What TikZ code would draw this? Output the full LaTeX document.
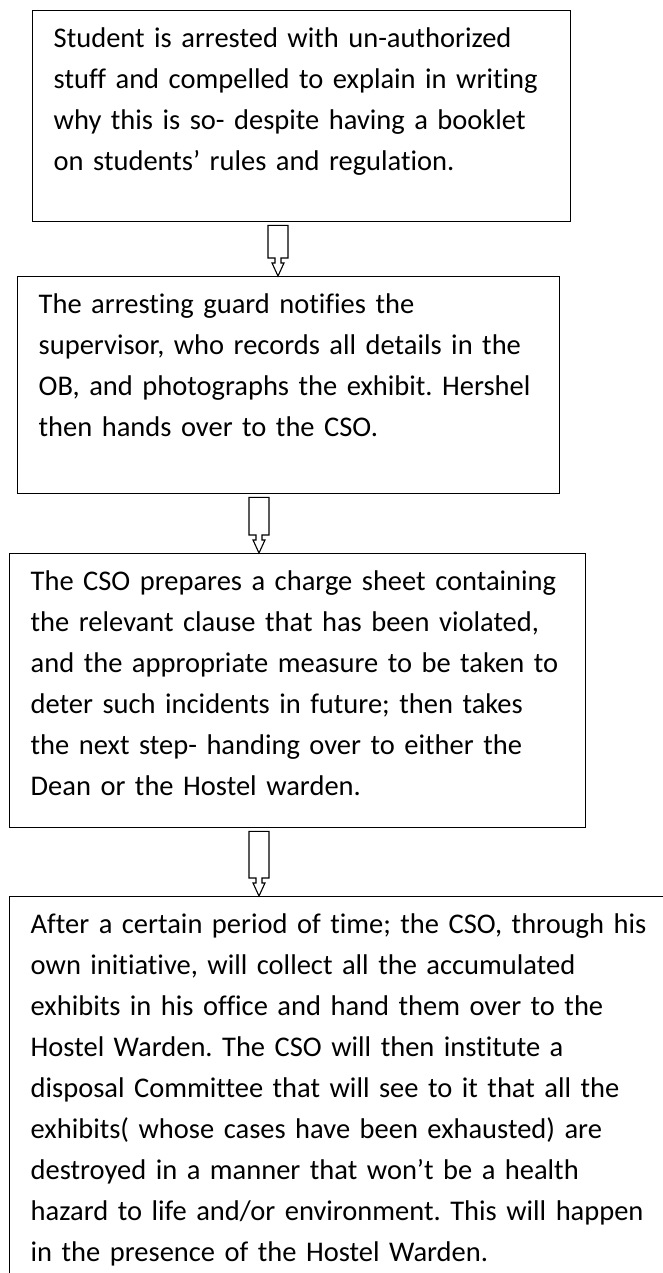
\documentclass[tikz,border=0pt]{standalone}
\usepackage{fontspec}
\setmainfont{Carlito}[Ligatures=NoCommon]
\usetikzlibrary{calc}
\tikzset{stepbox/.style={draw=black,line width=1.4pt,anchor=north west,align=left,
  inner ysep=0pt,inner xsep=21pt,text height=37pt,font=\fontsize{28.5}{41}\selectfont\frenchspacing},
  hollow/.style={draw=black,line width=1.1pt,fill=white,line join=miter}}
\newcommand{\flowarrow}[3]{%
  \draw[hollow] let \p1=(#1.south), \p2=(#2.north) in
    (#3pt-10pt,\y1-3pt) -- (#3pt+10pt,\y1-3pt) -- (#3pt+10pt,\y2+18pt)
    -- (#3pt+3pt,\y2+18pt) -- (#3pt+3pt,\y2+13pt) -- (#3pt+6pt,\y2+13pt)
    -- (#3pt,\y2) -- (#3pt-6pt,\y2+13pt) -- (#3pt-3pt,\y2+13pt)
    -- (#3pt-3pt,\y2+18pt) -- (#3pt-10pt,\y2+18pt) -- cycle;}

\begin{document}
\begin{tikzpicture}[x=1pt,y=1pt]
\useasboundingbox (0,0) rectangle (663,-1273);
\clip (0,0) rectangle (663,-1273);
\node[stepbox,text width=496pt,text depth=174pt] (arrest) at (32,-10)
  {Student is arrested with un-authorized\\stuff and compelled to explain in writing\\why this is so- despite having a booklet\\on students’ rules and regulation.};
\node[stepbox,text width=500pt,text depth=180pt] (notify) at (17,-276)
  {The arresting guard notifies the\\supervisor, who records all details in the\\OB, and photographs the exhibit. Hershel\\then hands over to the CSO.};
\node[stepbox,text width=534pt,text depth=237pt] (charge) at (9,-553)
  {The CSO prepares a charge sheet containing\\the relevant clause that has been violated,\\and the appropriate measure to be taken to\\deter such incidents in future; then takes\\the next step- handing over to either the\\Dean or the Hostel warden.};
\node[stepbox,text width=629pt,text depth=367pt] (disposal) at (9,-896)
  {After a certain period of time; the CSO, through his\\own initiative, will collect all the accumulated\\exhibits in his office and hand them over to the\\Hostel Warden. The CSO will then institute a\\disposal Committee that will see to it that all the\\exhibits( whose cases have been exhausted) are\\destroyed in a manner that won’t be a health\\hazard to life and/or environment. This will happen\\in the presence of the Hostel Warden.};
\flowarrow{arrest}{notify}{278}
\flowarrow{notify}{charge}{259}
\flowarrow{charge}{disposal}{259}
\end{tikzpicture}
\end{document}
